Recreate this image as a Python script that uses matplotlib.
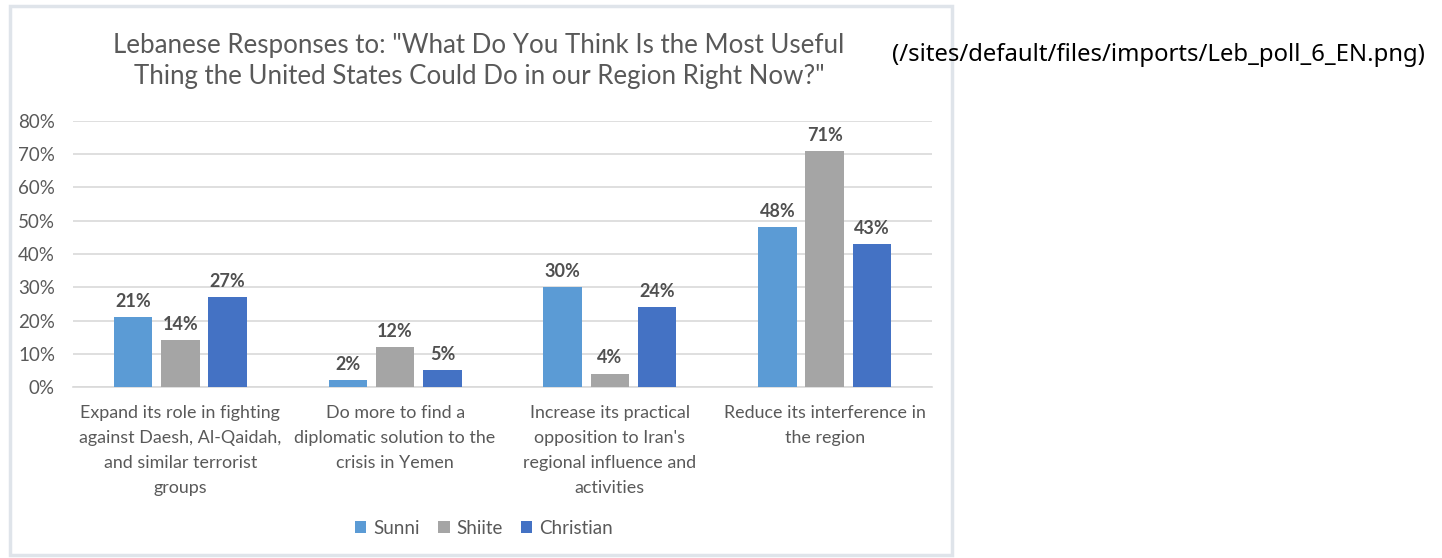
import numpy as np
import matplotlib.pyplot as plt
from matplotlib.patches import Rectangle

categories = [
    "Expand its role in fighting\nagainst Daesh, Al-Qaidah,\nand similar terrorist\ngroups",
    "Do more to find a\ndiplomatic solution to the\ncrisis in Yemen",
    "Increase its practical\nopposition to Iran's\nregional influence and\nactivities",
    "Reduce its interference in\nthe region",
]
groups = ["Sunni", "Shiite", "Christian"]
sunni = [21, 2, 30, 48]
shiite = [14, 12, 4, 71]
christian = [27, 5, 24, 43]
colors = ["#5B9BD5", "#A5A5A5", "#4472C4"]

W, H = 1442, 558
fig = plt.figure(figsize=(W / 100, H / 100), dpi=100)
plt.rcParams['font.family'] = ['Lato', 'DejaVu Sans']

# chart frame
fig.patches.append(Rectangle((10 / W, 1 - 555 / H), 942 / W, 549 / H,
                             transform=fig.transFigure, fill=False,
                             edgecolor="#dfe4ea", linewidth=2.5))

ax = fig.add_axes([73 / W, 1 - 387 / H, (932 - 73) / W, (387 - 121) / H])
x = np.arange(len(categories))
width = 0.18
step = 0.22
for i, (name, vals) in enumerate(zip(groups, [sunni, shiite, christian])):
    pos = x + (i - 1) * step
    bars = ax.bar(pos, np.array(vals) / 100, width, color=colors[i], label=name, zorder=3)
    for b, v in zip(bars, vals):
        ax.text(b.get_x() + b.get_width() / 2, b.get_height() + 0.022, f"{v}%",
                ha="center", va="bottom", fontsize=13, fontweight="bold", color="#505050")

ax.set_xlim(-0.5, 3.5)
ax.set_ylim(0, 0.8)
ax.set_yticks(np.arange(0, 0.81, 0.1))
ax.set_yticklabels([f"{int(round(t * 100))}%" for t in np.arange(0, 0.81, 0.1)])
ax.yaxis.grid(True, color="#d9d9d9", linewidth=1.2, zorder=0)
for s in ["top", "right", "left"]:
    ax.spines[s].set_visible(False)
ax.spines["bottom"].set_color("#d9d9d9")
ax.spines["bottom"].set_linewidth(1.2)
ax.tick_params(axis="y", length=0, labelsize=13.5, labelcolor="#595959", pad=13)
ax.set_xticks(x)
ax.set_xticklabels(categories, fontsize=12.9, color="#595959", linespacing=1.68)
ax.tick_params(axis="x", length=0, pad=13)

fig.text(479 / W, 1 - 61 / H,
         'Lebanese Responses to: "What Do You Think Is the Most Useful\n'
         'Thing the United States Could Do in our Region Right Now?"',
         ha="center", va="center", fontsize=18.6, color="#595959", linespacing=1.3)

fig.legend(loc="center", bbox_to_anchor=(484 / W, 1 - 528 / H), ncol=3, frameon=False,
           handlelength=0.6, handleheight=0.6, handletextpad=0.35, columnspacing=1.0,
           prop={"size": 13.5}, labelcolor="#595959")

fig.text(1425 / W, 1 - 55 / H, "(/sites/default/files/imports/Leb_poll_6_EN.png)",
         ha="right", va="center", fontsize=17.2, color="black", family=["Noto Sans", "DejaVu Sans"])

fig.savefig("out.png", dpi=100)
